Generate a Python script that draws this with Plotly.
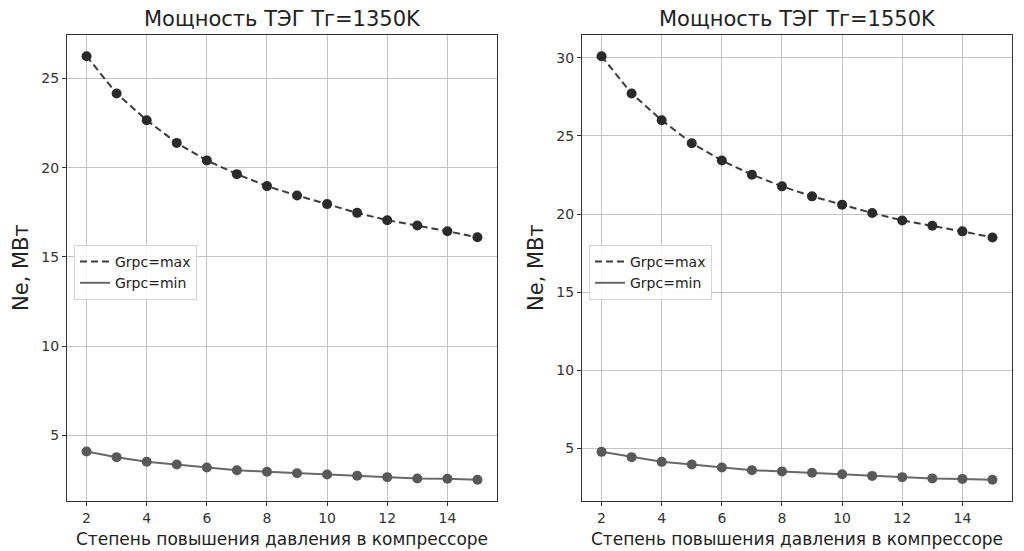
import plotly.graph_objects as go

# ---- data ----
pressure_ratio = [2, 3, 4, 5, 6, 7, 8, 9, 10, 11, 12, 13, 14, 15]

ne_1350_max = [26.25, 24.16, 22.66, 21.39, 20.41, 19.64, 18.97, 18.44, 17.96, 17.47, 17.06, 16.76, 16.44, 16.10]
ne_1350_min = [4.10, 3.78, 3.52, 3.37, 3.20, 3.05, 2.96, 2.88, 2.81, 2.74, 2.66, 2.58, 2.57, 2.51]

ne_1550_max = [30.10, 27.71, 26.00, 24.53, 23.42, 22.52, 21.77, 21.13, 20.60, 20.06, 19.59, 19.25, 18.89, 18.50]
ne_1550_min = [4.78, 4.44, 4.14, 3.97, 3.78, 3.61, 3.53, 3.44, 3.35, 3.24, 3.16, 3.08, 3.05, 2.99]

titles = ["Мощность ТЭГ Tг=1350K", "Мощность ТЭГ Tг=1550K"]
label_max = "Grpc=max"
label_min = "Grpc=min"
x_label = "Степень повышения давления в компрессоре"
y_label = "Ne, МВт"

W, H = 1024, 551
FONT = "DejaVu Sans"

panels = [
    dict(maxv=ne_1350_max, minv=ne_1350_min, title=titles[0], xdom=(67, 497), xa="x", ya="y", leg="legend", legx=74),
    dict(maxv=ne_1550_max, minv=ne_1550_min, title=titles[1], xdom=(582, 1012), xa="x2", ya="y2", leg="legend2", legx=589),
]
y_top, y_bot = 35, 501

def auto_range(vals, m=0.05):
    lo, hi = min(vals), max(vals)
    s = hi - lo
    return [lo - m * s, hi + m * s]

fig = go.Figure()
annotations = []
layout = {}

for i, p in enumerate(panels):
    # lines (legend entries)
    fig.add_trace(go.Scatter(x=pressure_ratio, y=p["maxv"], mode="lines", name=label_max,
                             line=dict(color="#3c3c3c", width=2, dash="7px,4px"),
                             xaxis=p["xa"], yaxis=p["ya"], legend=p["leg"]))
    fig.add_trace(go.Scatter(x=pressure_ratio, y=p["minv"], mode="lines", name=label_min,
                             line=dict(color="#686868", width=2),
                             xaxis=p["xa"], yaxis=p["ya"], legend=p["leg"]))
    # markers
    fig.add_trace(go.Scatter(x=pressure_ratio, y=p["maxv"], mode="markers", showlegend=False,
                             marker=dict(color="#2b2b2b", size=10),
                             xaxis=p["xa"], yaxis=p["ya"]))
    fig.add_trace(go.Scatter(x=pressure_ratio, y=p["minv"], mode="markers", showlegend=False,
                             marker=dict(color="#595959", size=10),
                             xaxis=p["xa"], yaxis=p["ya"]))

    sfx = "" if i == 0 else str(i + 1)
    x0, x1 = p["xdom"]
    common = dict(showgrid=True, gridcolor="#c4c4c4", gridwidth=1.2,
                  showline=True, linecolor="#333333", linewidth=1.2, mirror=True,
                  ticks="outside", ticklen=4, tickcolor="#333333", tickwidth=1,
                  zeroline=False, tickfont=dict(family=FONT, size=14, color="#333333"))
    layout["xaxis" + sfx] = dict(common, domain=[x0 / W, x1 / W],
                                 range=auto_range(pressure_ratio), dtick=2, tick0=0,
                                 anchor="y" + sfx)
    layout["yaxis" + sfx] = dict(common, domain=[(H - y_bot) / H, (H - y_top) / H],
                                 range=auto_range(p["maxv"] + p["minv"]), dtick=5, tick0=0,
                                 anchor="x" + sfx)
    layout[p["leg"]] = dict(x=p["legx"] / W, y=(H - 245) / H, xanchor="left", yanchor="top",
                            bgcolor="rgba(255,255,255,0.85)", bordercolor="#d4d4d4", borderwidth=1,
                            font=dict(family=FONT, size=14, color="#222222"),
                            itemwidth=30, tracegroupgap=0)
    cx = (x0 + x1) / 2 / W
    annotations.append(dict(text=p["title"], x=cx, y=(H - 19) / H, xref="paper", yref="paper",
                            showarrow=False, xanchor="center", yanchor="middle",
                            font=dict(family=FONT, size=21, color="#222222")))
    annotations.append(dict(text=x_label, x=cx, y=(H - 539) / H, xref="paper", yref="paper",
                            showarrow=False, xanchor="center", yanchor="middle",
                            font=dict(family=FONT, size=17, color="#222222")))
    annotations.append(dict(text=y_label, x=(x0 - 46) / W, y=(H - 268) / H, xref="paper", yref="paper",
                            showarrow=False, xanchor="center", yanchor="middle", textangle=-90,
                            font=dict(family=FONT, size=21, color="#222222")))

fig.update_layout(width=W, height=H, margin=dict(l=0, r=0, t=0, b=0),
                  paper_bgcolor="white", plot_bgcolor="white",
                  annotations=annotations, **layout)

fig.write_html("out.html", config={"displayModeBar": False},
               post_script="document.body.style.margin='0';document.body.style.overflow='hidden';")
